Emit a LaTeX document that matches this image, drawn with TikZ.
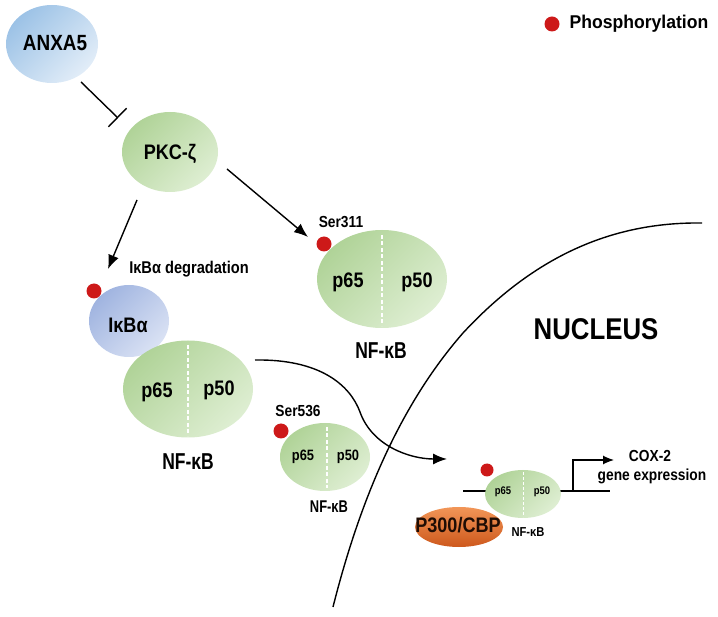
\documentclass[tikz,border=0pt]{standalone}
\usepackage{fontspec}
\setmainfont{Liberation Sans}[FakeStretch=0.86]
\newfontfamily\legendfont{Liberation Sans}[FakeStretch=0.95]
\newfontfamily\narrowfont{Liberation Sans}[FakeStretch=0.76]
\usetikzlibrary{shapes.geometric,arrows.meta}

\definecolor{greenA}{RGB}{176,211,152}
\definecolor{greenB}{RGB}{222,238,210}
\definecolor{blueA}{RGB}{156,194,230}
\definecolor{blueB}{RGB}{226,237,248}
\definecolor{violA}{RGB}{160,180,224}
\definecolor{violB}{RGB}{218,226,244}
\definecolor{orangeA}{RGB}{242,150,88}
\definecolor{orangeB}{RGB}{205,88,28}
\definecolor{dotred}{RGB}{205,25,25}

\newcommand\fsz[1]{\fontsize{#1}{#1}\selectfont}

\tikzset{
  blob/.style={ellipse, inner sep=0pt, draw=none},
  greenblob/.style={blob, top color=greenA, bottom color=greenB, shading angle=45},
  blueblob/.style={blob, top color=blueA, bottom color=blueB, shading angle=45},
  violblob/.style={blob, top color=violA, bottom color=violB, shading angle=45},
  orangeblob/.style={blob, top color=orangeA, bottom color=orangeB},
  lbl/.style={font=\bfseries, inner sep=0pt, text=black},
  pdot/.style={circle, fill=dotred, draw=none, inner sep=0pt, minimum size=15pt},
  sepline/.style={draw=white, dash pattern=on 4pt off 2.5pt, line width=1.3pt},
  arr/.style={-{Latex[length=14pt,width=11pt]}, line width=1.4pt},
  smallarr/.style={-{Latex[length=11pt,width=9pt]}, line width=1.2pt},
  inhib/.style={-{Bar[width=26pt,line width=1.4pt]}, line width=1.4pt},
  thick line/.style={line width=1.4pt},
}

\begin{document}
\begin{tikzpicture}[x=1pt,y=-1pt]
\useasboundingbox (0,0) rectangle (718,617);

% legend
\node[pdot] (legdot) at (552,24) {};
\node[lbl, font=\legendfont\bfseries\fsz{18.5}] (legtxt) at (639,24) {Phosphorylation};

% nucleus boundary
\coordinate (nb0) at (333,607);
\coordinate (nb1) at (463,333);
\coordinate (nb2) at (702,223);
\draw[thick line] (nb0) .. controls (360,500) and (400,405) .. (nb1) .. controls (540,250) and (620,222) .. (nb2);
\node[lbl, font=\bfseries\fsz{30}] (nucleus) at (596,329) {NUCLEUS};

% ANXA5 and PKC
\node[blueblob, minimum width=92pt, minimum height=78pt] (anxa) at (52,44) {};
\node[lbl, font=\bfseries\fsz{22}] (anxat) at (55,43) {ANXA5};
\node[greenblob, minimum width=96pt, minimum height=80pt] (pkc) at (170,152) {};
\node[lbl, font=\bfseries\fsz{21}] (pkct) at (170,154) {PKC-ζ};

\coordinate (i1) at (81,82);
\coordinate (i2) at (118,118);
\draw[inhib] (i1) -- (i2);

% arrows from PKC
\coordinate (a1s) at (227,169);
\coordinate (a1e) at (308,237);
\draw[arr] (a1s) -- (a1e);
\coordinate (a2s) at (137,200);
\coordinate (a2e) at (108,269);
\draw[arr] (a2s) -- (a2e);

% IkBa + NF-kB (cytoplasm)
\node[lbl, font=\bfseries\fsz{17}] (degr) at (189,269) {IκBα degradation};
\node[violblob, minimum width=80pt, minimum height=72pt] (ikb) at (129,321) {};
\node[lbl, font=\bfseries\fsz{21}] (ikbt) at (128,325) {IκBα};
\node[pdot] (ikbdot) at (94,291) {};
\node[greenblob, minimum width=130pt, minimum height=97pt] (nfa) at (188,389) {};
\draw[sepline] (188,345) -- (188,436);
\node[lbl, font=\bfseries\fsz{21}] (nfa65) at (157,392) {p65};
\node[lbl, font=\bfseries\fsz{21}] (nfa50) at (219,390) {p50};
\node[lbl, font=\narrowfont\bfseries\fsz{23}] (nfat) at (188,462) {NF-κB};

% NF-kB Ser311
\node[greenblob, minimum width=130pt, minimum height=98pt] (nfb) at (382,279) {};
\draw[sepline] (382,235) -- (382,326);
\node[pdot] (nfbdot) at (324,244) {};
\node[lbl, font=\bfseries\fsz{16}] (ser311) at (341,222) {Ser311};
\node[lbl, font=\bfseries\fsz{21}] (nfb65) at (348,282) {p65};
\node[lbl, font=\bfseries\fsz{21}] (nfb50) at (417,282) {p50};
\node[lbl, font=\narrowfont\bfseries\fsz{23}] (nfbt) at (381,351) {NF-κB};

% NF-kB Ser536
\node[greenblob, minimum width=90pt, minimum height=68pt] (nfc) at (325,457) {};
\draw[sepline] (327,427) -- (327,488);
\node[pdot] (nfcdot) at (281,431) {};
\node[lbl, font=\bfseries\fsz{16}] (ser536) at (298,411) {Ser536};
\node[lbl, font=\bfseries\fsz{15}] (nfc65) at (303,457) {p65};
\node[lbl, font=\bfseries\fsz{15}] (nfc50) at (348,457) {p50};
\node[lbl, font=\narrowfont\bfseries\fsz{17}] (nfct) at (329,507) {NF-κB};

% translocation arrow
\coordinate (t0) at (255,360);
\coordinate (t1) at (360,412);
\coordinate (t2) at (447,459);
\draw[arr] (t0) .. controls (320,359) and (350,385) .. (t1) .. controls (372,446) and (410,459) .. (t2);

% nuclear complex
\coordinate (dnaL) at (463,491);
\coordinate (dnaR) at (610,491);
\draw[thick line] (dnaL) -- (dnaR);
\node[greenblob, minimum width=76pt, minimum height=48pt] (nfd) at (523,494) {};
\draw[sepline, line width=1pt, dash pattern=on 3pt off 2pt] (523,472) -- (523,517);
\node[pdot, minimum size=13pt] (nfddot) at (487,470) {};
\node[lbl, font=\bfseries\fsz{11}] (nfd65) at (503,492) {p65};
\node[lbl, font=\bfseries\fsz{11}] (nfd50) at (542,492) {p50};
\node[orangeblob, minimum width=88pt, minimum height=40pt] (p300) at (459,527) {};
\node[lbl, font=\bfseries\fsz{21}, text=black!85!orangeB] (p300t) at (458,525) {P300/CBP};
\node[lbl, font=\bfseries\fsz{13}] (nfdt) at (528,532) {NF-κB};

% gene expression
\coordinate (g0) at (573,491);
\coordinate (g1) at (614,460);
\draw[smallarr] (g0) |- (g1);
\node[lbl, font=\bfseries\fsz{16}] (cox) at (650,456) {COX-2};
\node[lbl, font=\bfseries\fsz{16}] (gene) at (652,476) {gene expression};
\end{tikzpicture}
\end{document}
